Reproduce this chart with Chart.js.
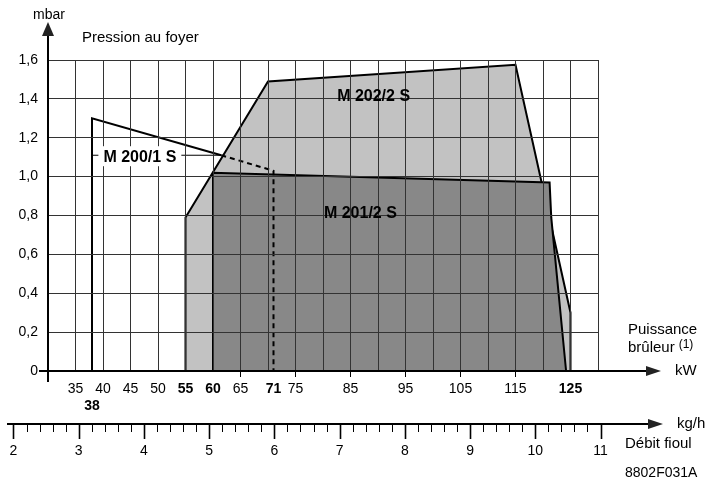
<!DOCTYPE html>
<html>
<head>
<meta charset="utf-8">
<script src="https://cdn.jsdelivr.net/npm/chart.js@4.4.0/dist/chart.umd.min.js"></script>
<style>
  html, body { margin: 0; padding: 0; background: #fff; }
  #wrap { width: 724px; height: 481px; position: relative; }
</style>
</head>
<body>
<div id="wrap"><canvas id="chart"></canvas></div>
<script>
// Working ranges: furnace pressure (mbar) against burner power (kW)
const m202Power    = [55, 55, 70, 115, 125, 125];
const m202Pressure = [0, 0.79, 1.49, 1.575, 0.3, 0];

const m201Power    = [60, 60, 121.2, 121.5, 124.2];
const m201Pressure = [0, 1.02, 0.97, 0.79, 0];

const m200Power        = [38, 38, 61.5];
const m200Pressure     = [0, 1.3, 1.11];
const m200DashPower    = [61.5, 71, 71];
const m200DashPressure = [1.11, 1.03, 0];

const leaderPower    = [38, 61.5];
const leaderPressure = [1.11, 1.11];

// Axis ticks
const kwGrid       = [30, 35, 40, 45, 50, 55, 60, 65, 70, 75, 80, 85, 90, 95, 100, 105, 110, 115, 120, 125, 130];
const kwExtra      = [38, 71];
const kwLabels     = [35, 40, 45, 50, 55, 60, 65, 71, 75, 85, 95, 105, 115, 125];
const kwBold       = [38, 55, 60, 71, 125];
const kwTickMarks  = [65, 75, 85, 95, 105, 115];
const pressureTicks  = [0, 0.1, 0.2, 0.3, 0.4, 0.5, 0.6, 0.7, 0.8, 0.9, 1.0, 1.1, 1.2, 1.3, 1.4, 1.5, 1.6];
const pressureLabels = ['0', '0,2', '0,4', '0,6', '0,8', '1,0', '1,2', '1,4', '1,6'];
const fuelTicks      = [2, 3, 4, 5, 6, 7, 8, 9, 10, 11];
const KW_PER_KGH = 11.86;   // fuel oil: kW of burner power per kg/h

const FONT = "'Liberation Sans', Arial, Helvetica, sans-serif";
const LIGHT = '#c2c2c2';
const DARK  = '#888888';

function pts(xs, ys) {
  return xs.map((x, i) => ({ x, y: ys[i] }));
}

/** Axis arrows, fuel-flow scale and all the free texts */
const decor = {
  id: 'decor',
  afterDraw(chart) {
    const { ctx, chartArea: a, scales: { x, y } } = chart;
    const y0 = y.getPixelForValue(0);
    ctx.save();
    ctx.strokeStyle = '#000';
    ctx.fillStyle = '#000';

    // main axes
    ctx.lineWidth = 2;
    ctx.beginPath();
    ctx.moveTo(a.left, y0 + 11);
    ctx.lineTo(a.left, 34);
    ctx.moveTo(a.left - 9, y0);
    ctx.lineTo(648, y0);
    ctx.stroke();
    ctx.fillStyle = '#222';
    tri(ctx, a.left, 22, a.left - 6, 36, a.left + 6, 36);
    tri(ctx, 661, y0, 646, y0 - 5, 646, y0 + 5);

    // fuel flow axis (kg/h), placed with the kW scale
    const yk = 424;
    ctx.lineWidth = 2;
    ctx.beginPath();
    ctx.moveTo(7, yk);
    ctx.lineTo(650, yk);
    ctx.stroke();
    tri(ctx, 663, yk, 648, yk - 5, 648, yk + 5);
    ctx.fillStyle = '#000';
    for (let i = 0; i <= 45; i++) {
      const k = fuelTicks[0] + i * 0.2;
      const px = Math.round(x.getPixelForValue(k * KW_PER_KGH)) + 0.5;
      const major = i % 5 === 0;
      ctx.lineWidth = major ? 1.6 : 1;
      ctx.beginPath();
      ctx.moveTo(px, yk);
      ctx.lineTo(px, yk + (major ? 15 : 8));
      ctx.stroke();
    }
    ctx.font = `14px ${FONT}`;
    ctx.textAlign = 'center';
    ctx.textBaseline = 'middle';
    fuelTicks.forEach(k => {
      ctx.fillText(String(k), x.getPixelForValue(k * KW_PER_KGH), 451);
    });

    // axis titles
    ctx.textAlign = 'center';
    ctx.fillText('mbar', 49, 15);
    ctx.font = `15px ${FONT}`;
    ctx.textAlign = 'left';
    ctx.fillText('Pression au foyer', 82, 38);
    ctx.fillText('Puissance', 628, 330);
    ctx.fillText('brûleur', 628, 348);
    const bw = ctx.measureText('brûleur').width;
    ctx.font = `12px ${FONT}`;
    ctx.fillText('(1)', 628 + bw + 4, 345);
    ctx.font = `15px ${FONT}`;
    ctx.fillText('kW', 675, 371);
    ctx.fillText('kg/h', 677, 424);
    ctx.fillText('Débit fioul', 625, 444);
    ctx.font = `14px ${FONT}`;
    ctx.fillText('8802F031A', 625, 473);

    // range names
    ctx.font = `bold 16px ${FONT}`;
    ctx.textAlign = 'center';
    const lx = x.getPixelForValue(46.7), ly = y.getPixelForValue(1.105);
    const w = ctx.measureText('M 200/1 S').width;
    ctx.fillStyle = '#fff';
    ctx.fillRect(lx - w / 2 - 5, ly - 10, w + 10, 20);
    ctx.fillStyle = '#000';
    ctx.fillText('M 200/1 S', lx, ly + 1);
    ctx.fillText('M 202/2 S', x.getPixelForValue(89.2), y.getPixelForValue(1.41));
    ctx.fillText('M 201/2 S', x.getPixelForValue(86.8), y.getPixelForValue(0.81));
    ctx.restore();
  }
};

function tri(ctx, x1, y1, x2, y2, x3, y3) {
  ctx.beginPath();
  ctx.moveTo(x1, y1);
  ctx.lineTo(x2, y2);
  ctx.lineTo(x3, y3);
  ctx.closePath();
  ctx.fill();
}

const lineDefaults = { showLine: true, pointRadius: 0, tension: 0, borderColor: '#000' };

new Chart(document.getElementById('chart'), {
  type: 'scatter',
  data: {
    datasets: [
      { ...lineDefaults, label: 'M 202/2 S', data: pts(m202Power, m202Pressure),
        fill: 'origin', backgroundColor: LIGHT, borderWidth: 2, order: 3 },
      { ...lineDefaults, label: 'M 201/2 S', data: pts(m201Power, m201Pressure),
        fill: 'origin', backgroundColor: DARK, borderWidth: 2, order: 2 },
      { ...lineDefaults, label: 'M 200/1 S', data: pts(m200Power, m200Pressure),
        fill: false, borderWidth: 2, order: 1 },
      { ...lineDefaults, label: 'M 200/1 S limit', data: pts(m200DashPower, m200DashPressure),
        fill: false, borderWidth: 2, borderDash: [5, 4], order: 1 },
      { ...lineDefaults, label: 'leader', data: pts(leaderPower, leaderPressure),
        fill: false, borderWidth: 1, order: 0 }
    ]
  },
  options: {
    responsive: true,
    maintainAspectRatio: false,
    animation: false,
    events: [],
    layout: { padding: { top: 60, right: 126, left: 0, bottom: 0 } },
    plugins: { legend: { display: false }, tooltip: { enabled: false } },
    scales: {
      x: {
        type: 'linear',
        min: 30, max: 130,
        afterFit: s => { s.height = 110; },
        afterBuildTicks: s => {
          s.ticks = [...kwGrid, ...kwExtra].sort((p, q) => p - q).map(v => ({ value: v }));
        },
        border: { display: false },
        grid: {
          z: 1,
          lineWidth: 1,
          color: c => kwExtra.includes(c.tick && c.tick.value) ? 'rgba(0,0,0,0)' : '#333',
          tickColor: c => kwTickMarks.includes(c.tick && c.tick.value) ? '#000' : 'rgba(0,0,0,0)',
          tickLength: 6
        },
        ticks: {
          autoSkip: false,
          maxRotation: 0,
          padding: 4,
          color: '#000',
          font: c => ({ family: FONT, size: 14,
            weight: kwBold.includes(c.tick && c.tick.value) ? 'bold' : 'normal' }),
          callback: v => v === 38 ? ['', '38'] : (kwLabels.includes(v) ? String(v) : '')
        }
      },
      y: {
        type: 'linear',
        min: 0, max: 1.6,
        afterFit: s => { s.width = 48; },
        afterBuildTicks: s => { s.ticks = pressureTicks.map(v => ({ value: v })); },
        border: { display: false },
        grid: { z: 1, lineWidth: 1, color: '#333', drawTicks: false },
        ticks: {
          padding: 10,
          color: '#000',
          font: { family: FONT, size: 14 },
          callback: (v, i) => i % 2 === 0 ? pressureLabels[i / 2] : ''
        }
      }
    }
  },
  plugins: [decor]
});
</script>
</body>
</html>
